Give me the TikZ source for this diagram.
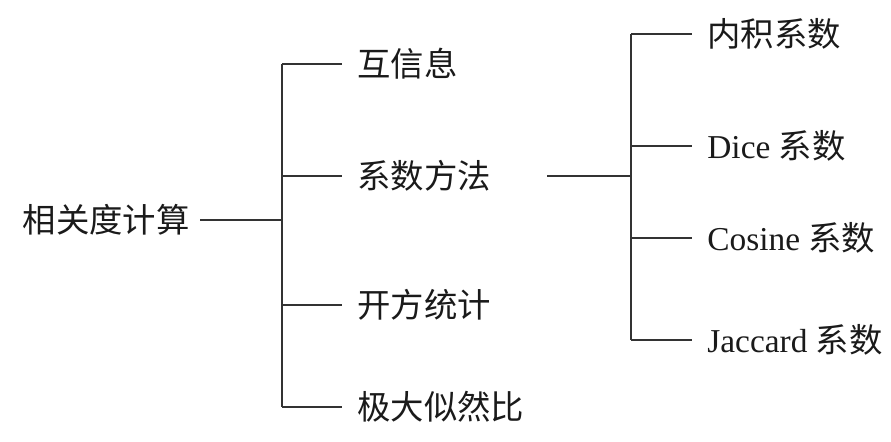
\documentclass[tikz,border=0pt]{standalone}
\usepackage{fontspec}
\setmainfont{Liberation Serif}
\newfontfamily\cjk{Noto Sans CJK SC}
\usetikzlibrary{positioning, calc}
\definecolor{trline}{HTML}{333333}
\definecolor{trtext}{HTML}{1A1A1A}

\begin{document}
\begin{tikzpicture}[
    font=\fontsize{19}{23}\selectfont,
    % ---- shared styles ---------------------------------------------------
    rootlbl/.style={text=trtext, anchor=east, inner xsep=0.20cm, inner ysep=0pt},
    leaf/.style={text=trtext, anchor=west, inner xsep=0.30cm, inner ysep=0pt},
    mid/.style={text=trtext, anchor=west, inner xsep=0.30cm, inner ysep=0pt},
    bar/.style={draw=trline, line width=0.75pt},
  ]
\useasboundingbox (0,0) rectangle (17.82,8.82);

% =========================================================================
% LEFT -- the root and its four branches
% =========================================================================
\node[rootlbl] (root) at (4.00,4.42) {\cjk 相关度计算};
\coordinate (jl) at (5.64,4.42);

\node[leaf] (mi)  at (6.84,7.54) {\cjk 互信息};
\node[mid]  (coef) at (6.84,5.30) {\cjk 系数方法};
\node[leaf] (chi) at (6.84,2.72) {\cjk 开方统计};
\node[leaf] (mle) at (6.84,0.68) {\cjk 极大似然比};

\draw[bar] (root.east) -- (jl);
\draw[bar] (jl |- mi.west) -- (jl |- mle.west);
\foreach \b in {mi, coef, chi, mle}{
  \draw[bar] (jl |- \b.west) -- (\b.west);}

% =========================================================================
% RIGHT -- the coefficient family
% =========================================================================
\coordinate (cs) at (10.94,5.30);
\coordinate (jr) at (12.62,5.30);

\node[leaf] (inner) at (13.84,8.14) {\cjk 内积系数};
\node[leaf] (dice)  at (13.84,5.90) {Dice {\cjk 系数}};
\node[leaf] (cos)   at (13.84,4.06) {Cosine {\cjk 系数}};
\node[leaf] (jac)   at (13.84,2.02) {Jaccard {\cjk 系数}};

\draw[bar] (cs) -- (jr);
\draw[bar] (jr |- inner.west) -- (jr |- jac.west);
\foreach \b in {inner, dice, cos, jac}{
  \draw[bar] (jr |- \b.west) -- (\b.west);}

\end{tikzpicture}
\end{document}
